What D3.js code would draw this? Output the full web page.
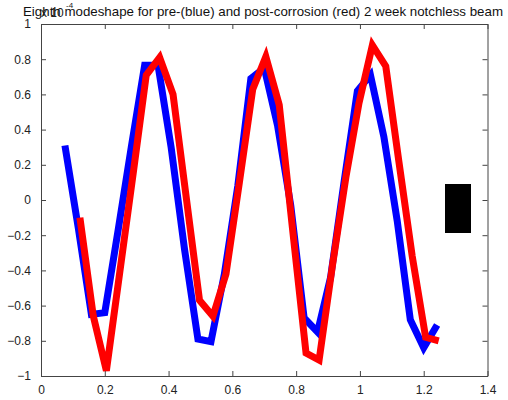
<!DOCTYPE html>
<html><head><meta charset="utf-8">
<script src="https://cdn.jsdelivr.net/npm/d3@7"></script>
<style>
html,body{margin:0;padding:0;background:#fff;}
svg{display:block;font-family:"Liberation Sans",Arial,sans-serif;}
</style></head>
<body>
<svg id="c" width="508" height="400"></svg>
<script>
const titleText = "Eighth modeshape for pre-(blue) and post-corrosion (red) 2 week notchless beam";
const xTicks = [0, 0.2, 0.4, 0.6, 0.8, 1, 1.2, 1.4];
const yTicks = [-1, -0.8, -0.6, -0.4, -0.2, 0, 0.2, 0.4, 0.6, 0.8, 1];

const preX = [0.075,0.117,0.158,0.200,0.242,0.283,0.325,0.367,0.408,0.450,0.492,0.533,0.575,0.617,0.658,0.700,0.742,0.783,0.825,0.867,0.908,0.950,0.992,1.033,1.075,1.117,1.158,1.200,1.242];
const preY = [0.31,-0.16,-0.65,-0.64,-0.17,0.30,0.765,0.765,0.30,-0.28,-0.79,-0.805,-0.42,0.08,0.69,0.75,0.42,-0.03,-0.67,-0.75,-0.44,0.10,0.62,0.71,0.36,-0.12,-0.68,-0.84,-0.71];

const postX = [0.122,0.164,0.205,0.247,0.289,0.330,0.372,0.414,0.455,0.497,0.539,0.580,0.622,0.664,0.705,0.747,0.789,0.831,0.872,0.914,0.956,0.997,1.039,1.081,1.122,1.164,1.206,1.247];
const postY = [-0.10,-0.66,-0.97,-0.41,0.15,0.71,0.81,0.60,0.02,-0.57,-0.66,-0.42,0.10,0.63,0.815,0.54,-0.17,-0.87,-0.91,-0.37,0.13,0.55,0.88,0.76,0.22,-0.32,-0.78,-0.80];

const svg = d3.select("#c");
const L = 41, R = 487.5, T = 24, B = 376;
const x = d3.scaleLinear().domain([0, 1.4]).range([L, R]);
const y = d3.scaleLinear().domain([-1, 1]).range([B, T]);
const axisCol = "#444";

// black rectangle artifact
svg.append("rect").attr("x", 445).attr("y", 184).attr("width", 26).attr("height", 49).attr("fill", "#000");

const line = d3.line().x(d => x(d[0])).y(d => y(d[1]));
const pre = preX.map((v, i) => [v, preY[i]]);
const post = postX.map((v, i) => [v, postY[i]]);
svg.append("path").datum(pre).attr("d", line).attr("fill", "none")
  .attr("stroke", "#0000ff").attr("stroke-width", 7).attr("stroke-linejoin", "miter").attr("stroke-linecap", "butt");
svg.append("path").datum(post).attr("d", line).attr("fill", "none")
  .attr("stroke", "#ff0000").attr("stroke-width", 7).attr("stroke-linejoin", "miter").attr("stroke-linecap", "butt");

// axes (box with inward ticks)
const fmt = d => d3.format("")(d);
const gB = svg.append("g").attr("transform", `translate(0,${B})`)
  .call(d3.axisBottom(x).tickValues(xTicks).tickSizeInner(-5).tickSizeOuter(0).tickPadding(9).tickFormat(fmt));
const gT = svg.append("g").attr("transform", `translate(0,${T})`)
  .call(d3.axisTop(x).tickValues(xTicks).tickSizeInner(-5).tickSizeOuter(0).tickFormat(""));
const gL = svg.append("g").attr("transform", `translate(${L},0)`)
  .call(d3.axisLeft(y).tickValues(yTicks).tickSizeInner(-5).tickSizeOuter(0).tickPadding(10).tickFormat(fmt));
const gR = svg.append("g").attr("transform", `translate(${R},0)`)
  .call(d3.axisRight(y).tickValues(yTicks).tickSizeInner(-5).tickSizeOuter(0).tickFormat(""));
[gB, gT, gL, gR].forEach(g => {
  g.selectAll("path,line").attr("stroke", axisCol).attr("stroke-width", 1);
  g.selectAll("text").attr("fill", "#222").style("font-size", "12px").style("font-family", "Liberation Sans, Arial, sans-serif");
});

// multiplier label (partly hidden under title)
svg.append("text").attr("x", 41).attr("y", 17).style("font-size", "12px").attr("fill", "#222").text("x 10");
svg.append("text").attr("x", 66).attr("y", 8).style("font-size", "8px").attr("fill", "#222").text("-4");

// title
svg.append("text").attr("x", 263).attr("y", 16).attr("text-anchor", "middle")
  .style("font-size", "13px").attr("fill", "#111").attr("textLength", 480).attr("lengthAdjust", "spacingAndGlyphs")
  .text(titleText);
</script>
</body></html>
